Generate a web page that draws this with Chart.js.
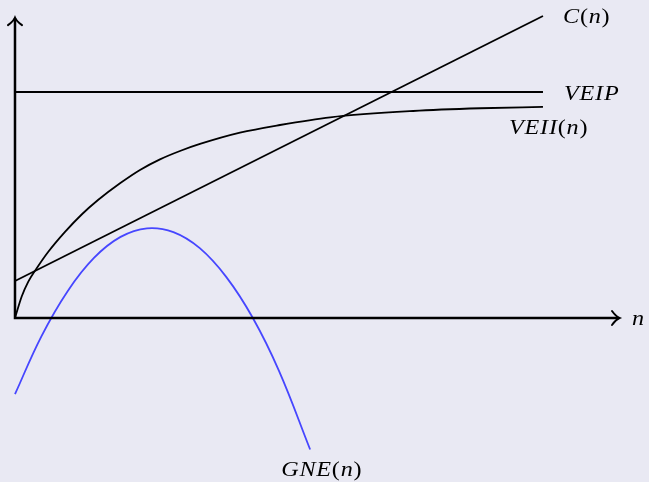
<!DOCTYPE html>
<html>
<head>
<meta charset="utf-8">
<script src="https://cdn.jsdelivr.net/npm/chart.js@4.4.1/dist/chart.umd.min.js"></script>
<style>
  html, body { margin: 0; padding: 0; background: #e9e9f3; }
  #wrap { width: 649px; height: 482px; }
</style>
</head>
<body>
<div id="wrap"><canvas id="econ"></canvas></div>
<script>
// Cost, private and industry valuations, and net gain against n

const costN = [0, 10];
const costY = [1.64, 13.36];

const veipN = [0, 10];
const veipY = [10, 10];

const veiiN = [0, 0.127, 0.252, 0.411, 0.631, 0.947, 1.263, 1.578, 1.989, 2.367, 2.746, 3.125, 3.504, 4.261, 5.019, 5.97, 7.54, 8.81, 10];
const veiiY = [0, 0.95, 1.61, 2.2, 2.93, 3.81, 4.58, 5.23, 5.96, 6.55, 7.02, 7.39, 7.7, 8.2, 8.54, 8.88, 9.16, 9.28, 9.34];

const gneN = [0, 0.5, 1, 1.5, 2, 2.5, 3, 3.5, 4, 4.5, 5, 5.59];
const gneY = [-3.37, -0.81, 1.2, 2.67, 3.59, 3.97, 3.8, 3.09, 1.82, 0.02, -2.34, -5.82];

const axisEndN = 11.44;
const axisEndY = 13.27;

const INK = '#000000';
const BLUE = '#4646ff';
const FONT = '"Liberation Serif", "DejaVu Serif", serif';

const toPoints = (xs, ys) => xs.map((x, i) => ({ x, y: ys[i] }));

function series(xs, ys, color, curve) {
  return {
    data: toPoints(xs, ys),
    borderColor: color,
    borderWidth: 1.8,
    pointRadius: 0,
    showLine: true,
    fill: false,
    cubicInterpolationMode: curve === 'monotone' ? 'monotone' : 'default',
    tension: curve === 'smooth' ? 0.4 : 0,
  };
}

// math-style label: italic letters, upright brackets, glyphs stretched a little wider
function mathText(ctx, parts, x, y) {
  const stretch = 1.15;
  let cx = 0;
  ctx.save();
  ctx.translate(x, y);
  ctx.scale(stretch, 1);
  parts.forEach(([txt, italic]) => {
    ctx.font = (italic ? 'italic ' : '') + '21px ' + FONT;
    for (const ch of txt) {
      ctx.fillText(ch, cx, 0);
      cx += ctx.measureText(ch).width + 0.8 / stretch;
    }
  });
  ctx.restore();
}

const axesPlugin = {
  id: 'axesPlugin',
  afterDatasetsDraw(chart) {
    const { ctx, scales: { x, y } } = chart;
    const ox = x.getPixelForValue(0), oy = y.getPixelForValue(0);
    const ex = x.getPixelForValue(axisEndN), ey = y.getPixelForValue(axisEndY);
    ctx.save();
    ctx.strokeStyle = INK;
    ctx.lineWidth = 2.5;
    ctx.lineCap = 'butt';
    ctx.beginPath();
    ctx.moveTo(ox, oy + 1.25); ctx.lineTo(ox, ey);
    ctx.moveTo(ox - 1.25, oy); ctx.lineTo(ex, oy);
    ctx.stroke();

    // latex style arrow tips
    ctx.lineWidth = 2;
    ctx.lineCap = 'round';
    ctx.beginPath();
    ctx.moveTo(ex - 7, oy - 7); ctx.quadraticCurveTo(ex - 3, oy - 1.5, ex + 0.5, oy);
    ctx.quadraticCurveTo(ex - 3, oy + 1.5, ex - 7, oy + 7);
    ctx.moveTo(ox - 7, ey + 7); ctx.quadraticCurveTo(ox - 1.5, ey + 3, ox, ey - 0.5);
    ctx.quadraticCurveTo(ox + 1.5, ey + 3, ox + 7, ey + 7);
    ctx.stroke();

    ctx.fillStyle = INK;
    ctx.textBaseline = 'alphabetic';
    const last = (xs, ys) => [x.getPixelForValue(xs[xs.length - 1]), y.getPixelForValue(ys[ys.length - 1])];

    let [px, py] = last(costN, costY);
    mathText(ctx, [['C', true], ['(', false], ['n', true], [')', false]], px + 20, py + 7);
    [px, py] = last(veipN, veipY);
    mathText(ctx, [['VEIP', true]], px + 21, py + 8);
    [px, py] = last(veiiN, veiiY);
    mathText(ctx, [['VEII', true], ['(', false], ['n', true], [')', false]], px - 34, py + 27);
    [px, py] = last(gneN, gneY);
    mathText(ctx, [['GNE', true], ['(', false], ['n', true], [')', false]], px - 29, py + 26);
    mathText(ctx, [['n', true]], ex + 13, oy + 7);
    ctx.restore();
  }
};

new Chart(document.getElementById('econ'), {
  type: 'scatter',
  data: {
    datasets: [
      series(costN, costY, INK, 'straight'),
      series(veipN, veipY, INK, 'straight'),
      series(veiiN, veiiY, INK, 'monotone'),
      series(gneN, gneY, BLUE, 'smooth'),
    ]
  },
  options: {
    responsive: true,
    maintainAspectRatio: false,
    animation: false,
    layout: { padding: 0 },
    plugins: {
      legend: { display: false },
      tooltip: { enabled: false },
    },
    scales: {
      x: { type: 'linear', min: -0.284, max: 12.008, display: false },
      y: { type: 'linear', min: -7.257, max: 14.071, display: false },
    },
  },
  plugins: [axesPlugin],
});
</script>
</body>
</html>
